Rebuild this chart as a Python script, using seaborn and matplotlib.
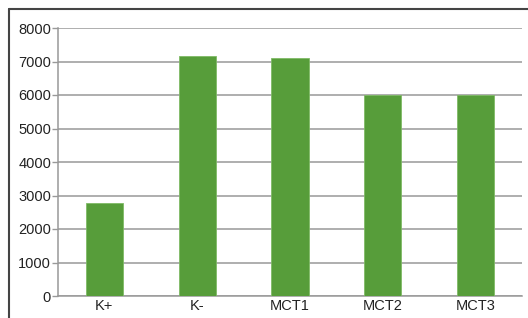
import matplotlib.pyplot as plt
import seaborn as sns
import pandas as pd
from matplotlib.lines import Line2D

# Data
groups = ['K+', 'K-', 'MCT1', 'MCT2', 'MCT3']
values = [2780, 7150, 7100, 6000, 6010]
y_ticks = [0, 1000, 2000, 3000, 4000, 5000, 6000, 7000, 8000]

df = pd.DataFrame({'Group': groups, 'Value': values})

sns.set_style('white')
plt.rcParams['font.family'] = ['Liberation Sans', 'DejaVu Sans']

fig = plt.figure(figsize=(5.28, 3.18), dpi=100)
ax = fig.add_axes([58 / 528, 1 - 296 / 318, (522 - 58) / 528, (296 - 28) / 318])

sns.barplot(x='Group', y='Value', data=df, color='#579d3a', width=0.4,
            saturation=1, edgecolor='#7fba66', linewidth=0.6, ax=ax, zorder=3)

ax.set_xlim(-0.5, len(groups) - 0.5)
ax.set_ylim(0, 8000)
ax.set_yticks(y_ticks)
ax.yaxis.grid(True, color='#999999', linewidth=1.1, zorder=0)
ax.set_xlabel('')
ax.set_ylabel('')

# x ticks sit between the categories
ax.set_xticks([i - 0.5 for i in range(len(groups) + 1)], minor=True)
ax.tick_params(axis='x', which='major', length=0, labelsize=10.5, pad=2, colors='#222222')
ax.tick_params(axis='x', which='minor', length=4, width=1, color='#999999', direction='out')
ax.tick_params(axis='y', length=4, width=1, color='#999999', labelsize=10.5, pad=1,
               labelcolor='#222222', left=True)

for side in ['top', 'right']:
    ax.spines[side].set_visible(False)
for side in ['left', 'bottom']:
    ax.spines[side].set_color('#999999')
    ax.spines[side].set_linewidth(1.1)

# outer frame (top and left only visible)
fig.add_artist(Line2D([9 / 528, 9 / 528], [0, 1 - 9 / 318], color='#444444', linewidth=1.5,
                      transform=fig.transFigure))
fig.add_artist(Line2D([9 / 528, 1], [1 - 9 / 318, 1 - 9 / 318], color='#444444', linewidth=1.5,
                      transform=fig.transFigure))

plt.savefig('out.png', dpi=100)
plt.close()
